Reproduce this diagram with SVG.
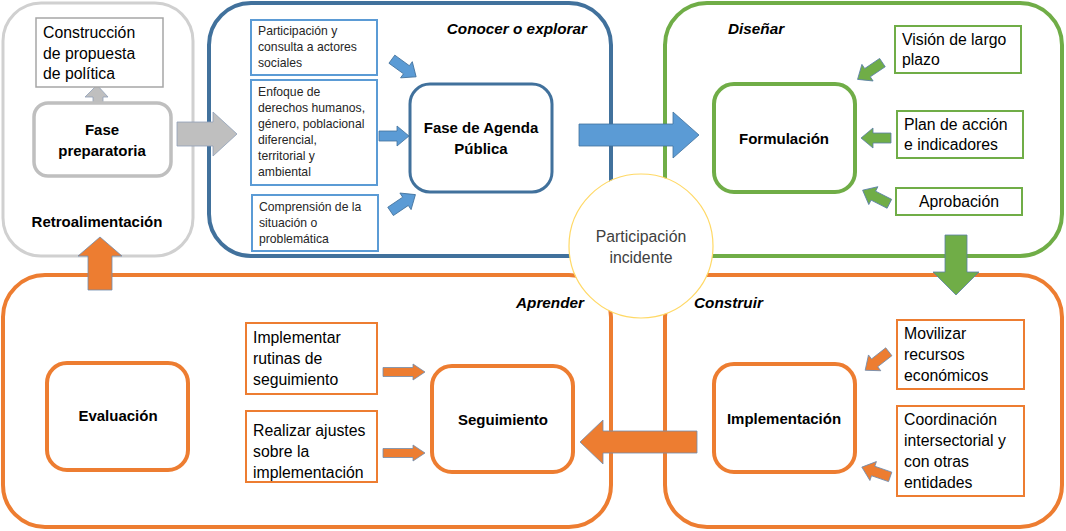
<svg xmlns="http://www.w3.org/2000/svg" width="1066" height="531" viewBox="0 0 1066 531">
<style>
text{font-family:"Liberation Sans",Arial,sans-serif;fill:#000}
.b{font-weight:bold;font-size:15px}
.t{font-size:15.8px}
.s{font-size:12.2px;fill:#262626}
.it{font-weight:bold;font-style:italic;font-size:15.3px}
.c{text-anchor:middle}
.cg{fill:none;stroke:#d0d0d0;stroke-width:3}
.cb{fill:none;stroke:#41719c;stroke-width:4}
.cgr{fill:none;stroke:#70ad47;stroke-width:4}
.co{fill:none;stroke:#ed7d31;stroke-width:4}
.nb{fill:#fff;stroke:#41719c;stroke-width:3}
.ng{fill:#fff;stroke:#70ad47;stroke-width:4}
.no{fill:#fff;stroke:#ed7d31;stroke-width:4}
.np{fill:#fff;stroke:#bfbfbf;stroke-width:3.5}
.bb{fill:#fff;stroke:#5b9bd5;stroke-width:2}
.bg{fill:#fff;stroke:#70ad47;stroke-width:2}
.bo{fill:#fff;stroke:#ed7d31;stroke-width:2}
.bgr{fill:#fff;stroke:#a6a6a6;stroke-width:1.5}
.ab{fill:#5b9bd5;stroke:#41719c;stroke-width:0.8}
.ag{fill:#70ad47;stroke:#5a7fa8;stroke-width:0.8}
.ao{fill:#ed7d31;stroke:#6f8db0;stroke-width:0.8}
.agy{fill:#bfbfbf;stroke:#8fa0b8;stroke-width:0.8}
</style>
<defs>
<path id="sa" d="M-15,-5 L3,-5 L3,-10 L15,0 L3,10 L3,5 L-15,5 Z"/>
<path id="sao" d="M-21,-4.5 L9,-4.5 L9,-8 L21,0 L9,8 L9,4.5 L-21,4.5 Z"/>
</defs>
<rect width="1066" height="531" fill="#fff"/>

<g id="containers">
<rect id="c-retro" x="3" y="3" width="190" height="253" rx="38" class="cg"/>
<rect id="c-conocer" x="209" y="3" width="402" height="253" rx="42" class="cb"/>
<rect id="c-disenar" x="665" y="3" width="397" height="253" rx="42" class="cgr"/>
<rect id="c-aprender" x="3" y="275" width="608" height="252" rx="42" class="co"/>
<rect id="c-construir" x="665" y="275" width="397" height="252" rx="42" class="co"/>
<text class="it" x="587" y="34" text-anchor="end">Conocer o explorar</text>
<text class="it" x="728" y="34">Diseñar</text>
<text class="it" x="584" y="308" text-anchor="end">Aprender</text>
<text class="it" x="694" y="308">Construir</text>
</g>

<g id="connectors">
<path class="agy" d="M85,97 L97,85 L108,97 L103,97 L103,103 L93,103 L93,97 Z"/>
<path class="agy" d="M177,122 L213,122 L213,112 L237,134 L213,156 L213,146 L177,146 Z"/>
<use href="#sa" class="ab" transform="translate(404,68) rotate(36)"/>
<use href="#sa" class="ab" transform="translate(394,136)"/>
<use href="#sa" class="ab" transform="translate(403,203) rotate(-34)"/>
<path class="ab" d="M579,124 L673,124 L673,112 L699,135 L673,158 L673,146 L579,146 Z"/>
<use href="#sa" class="ag" transform="translate(870,71) rotate(146)"/>
<use href="#sa" class="ag" transform="translate(876,138) rotate(180)"/>
<use href="#sa" class="ag" transform="translate(876,197) rotate(207)"/>
<path class="ag" d="M945,235 L967,235 L967,272 L979,272 L956,295 L933,272 L945,272 Z"/>
<use href="#sa" class="ao" transform="translate(877,361) rotate(142)"/>
<use href="#sa" class="ao" transform="translate(876,472) rotate(199)"/>
<use href="#sao" class="ao" transform="translate(404,372)"/>
<use href="#sao" class="ao" transform="translate(404,453)"/>
<path class="ao" d="M697,431 L603,431 L603,420 L580,442 L603,464 L603,453 L697,453 Z"/>
<path class="ao" d="M88,290 L88,256 L78,256 L100,237 L122,256 L112,256 L112,290 Z"/>
</g>

<g id="n-construccion">
<rect x="36" y="18" width="127" height="69" class="bgr"/>
<text class="t" x="43" y="38">Construcción</text>
<text class="t" x="43" y="59">de propuesta</text>
<text class="t" x="43" y="79">de política</text>
</g>
<g id="n-preparatoria">
<rect x="34" y="103" width="137" height="73" rx="14" class="np"/>
<text class="b c" x="102" y="135">Fase</text>
<text class="b c" x="102" y="156">preparatoria</text>
</g>
<text id="n-retro" class="b c" x="97" y="227">Retroalimentación</text>

<g id="n-participacion">
<rect x="251" y="20" width="126" height="55" class="bb"/>
<text class="s" x="258" y="35">Participación y</text>
<text class="s" x="258" y="51">consulta a actores</text>
<text class="s" x="258" y="67">sociales</text>
</g>
<g id="n-enfoque">
<rect x="251" y="80" width="126" height="105" class="bb"/>
<text class="s" x="258" y="96">Enfoque de</text>
<text class="s" x="258" y="112">derechos humanos,</text>
<text class="s" x="258" y="128">género, poblacional</text>
<text class="s" x="258" y="144">diferencial,</text>
<text class="s" x="258" y="160">territorial y</text>
<text class="s" x="258" y="176">ambiental</text>
</g>
<g id="n-comprension">
<rect x="252" y="195" width="126" height="56" class="bb"/>
<text class="s" x="259" y="211">Comprensión de la</text>
<text class="s" x="259" y="227">situación o</text>
<text class="s" x="259" y="243">problemática</text>
</g>
<g id="n-agenda">
<rect x="410" y="84" width="142" height="108" rx="20" class="nb"/>
<text class="b c" x="481" y="133">Fase de Agenda</text>
<text class="b c" x="481" y="154">Pública</text>
</g>

<g id="n-formulacion">
<rect x="714" y="84" width="141" height="108" rx="20" class="ng"/>
<text class="b c" x="784" y="144">Formulación</text>
</g>
<g id="n-vision">
<rect x="895" y="26" width="126" height="47" class="bg"/>
<text class="t" x="902" y="45">Visión de largo</text>
<text class="t" x="902" y="65">plazo</text>
</g>
<g id="n-plan">
<rect x="897" y="111" width="126" height="47" class="bg"/>
<text class="t" x="904" y="130">Plan de acción</text>
<text class="t" x="904" y="150">e indicadores</text>
</g>
<g id="n-aprobacion">
<rect x="896" y="188" width="126" height="27" class="bg"/>
<text class="t c" x="959" y="207">Aprobación</text>
</g>

<g id="n-implementacion">
<rect x="714" y="364" width="141" height="108" rx="20" class="no"/>
<text class="b c" x="784" y="424">Implementación</text>
</g>
<g id="n-movilizar">
<rect x="897" y="320" width="127" height="69" class="bo"/>
<text class="t" x="904" y="339">Movilizar</text>
<text class="t" x="904" y="360">recursos</text>
<text class="t" x="904" y="381">económicos</text>
</g>
<g id="n-coordinacion">
<rect x="897" y="406" width="127" height="90" class="bo"/>
<text class="t" x="904" y="425">Coordinación</text>
<text class="t" x="904" y="446">intersectorial y</text>
<text class="t" x="904" y="467">con otras</text>
<text class="t" x="904" y="488">entidades</text>
</g>

<g id="n-seguimiento">
<rect x="432" y="366" width="141" height="106" rx="20" class="no"/>
<text class="b c" x="503" y="425">Seguimiento</text>
</g>
<g id="n-rutinas">
<rect x="246" y="323" width="131" height="71" class="bo"/>
<text class="t" x="253" y="343">Implementar</text>
<text class="t" x="253" y="364">rutinas de</text>
<text class="t" x="253" y="385">seguimiento</text>
</g>
<g id="n-ajustes">
<rect x="246" y="411" width="131" height="71" class="bo"/>
<text class="t" x="253" y="436">Realizar ajustes</text>
<text class="t" x="253" y="457">sobre la</text>
<text class="t" x="253" y="478">implementación</text>
</g>
<g id="n-evaluacion">
<rect x="47" y="363" width="141" height="107" rx="20" class="no"/>
<text class="b c" x="118" y="421">Evaluación</text>
</g>

<g id="n-participacion-incidente">
<circle cx="641" cy="246" r="72" fill="#fff" stroke="#ffd966" stroke-width="1.2"/>
<text class="t c" x="641" y="242" style="fill:#404040">Participación</text>
<text class="t c" x="641" y="263" style="fill:#404040">incidente</text>
</g>
</svg>
